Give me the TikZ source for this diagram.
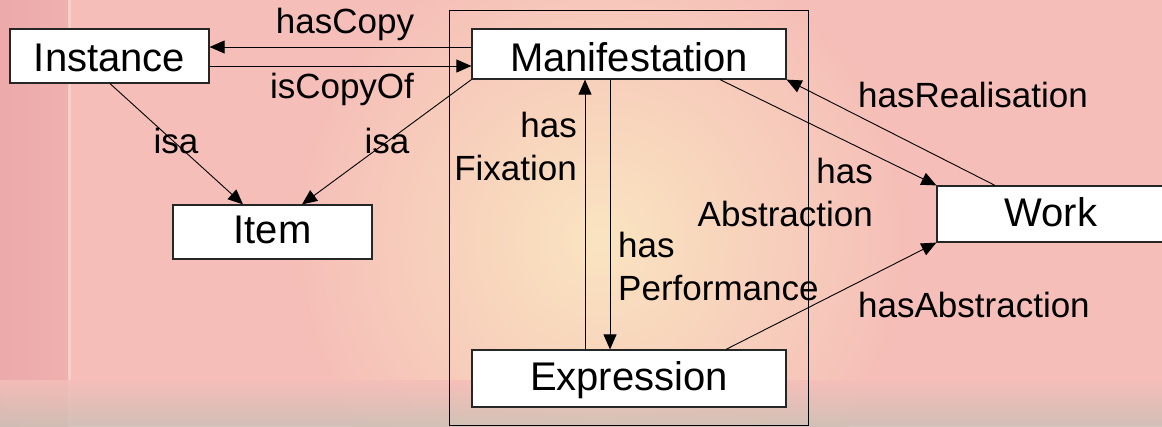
\documentclass[tikz,border=0pt]{standalone}
\usepackage{fontspec}
\setmainfont{Liberation Sans}
\usetikzlibrary{arrows.meta,backgrounds}

\definecolor{bgpink}{RGB}{245,190,184}
\definecolor{bgglow}{RGB}{250,228,192}
\definecolor{bgstrip}{RGB}{236,170,170}
\definecolor{bgfloor}{RGB}{204,192,182}

\begin{document}
\begin{tikzpicture}[x=1pt,y=-1pt,
  entity/.style={draw=black!85, line width=1.2pt, fill=white, inner sep=0pt,
    anchor=base, font=\fontsize{40}{48}\selectfont},
  rel/.style={draw=black, line width=0.9pt, -{Triangle[length=15pt,width=13pt]}},
  lbl/.style={inner sep=0pt, font=\fontsize{35}{43}\selectfont}]

\useasboundingbox (0,0) rectangle (1162,426);
\clip (0,0) rectangle (1162,426);

% entities
\node[entity, minimum width=199pt, text height=42pt, text depth=12pt] (inst) at (109.5,71) {Instance};
\node[entity, minimum width=314pt, text height=42pt, text depth=8pt]  (man)  at (629,71)   {Manifestation};
\node[entity, minimum width=199pt, text height=38pt, text depth=16pt] (item) at (272.5,243) {Item};
\node[entity, minimum width=314pt, text height=40pt, text depth=17pt] (expr) at (629,390)  {Expression};
\node[entity, minimum width=228pt, text height=40pt, text depth=16pt] (work) at (1051,226) {Work};

% backdrop and grouping frame
\begin{scope}[on background layer]
  \fill[bgpink] (0,0) rectangle (1162,426);
  \shade[inner color=bgglow, outer color=bgpink] (600,240) circle (310);
  \shade[left color=bgstrip, right color=bgstrip!70!bgpink] (0,0) rectangle (68,426);
  \fill[white, opacity=0.25] (68,0) rectangle (71,426);
  \shade[top color=bgpink, bottom color=bgfloor, opacity=0.85] (0,380) rectangle (1162,426);
  \draw[line width=1pt] (449,10) rectangle (808,425);
\end{scope}

% relations
\draw[rel] ([yshift=7pt]man.west) -- ([yshift=7pt]man.west -| inst.east);
\draw[rel] ([yshift=-10pt]inst.east) -- ([yshift=-10pt]inst.east -| man.west);
\draw[rel] ([xshift=0.5pt]inst.south) -- ([xshift=-29.5pt]item.north);
\draw[rel] (man.south west) -- ([xshift=29.5pt]item.north);
\draw[rel] ([xshift=-44pt]expr.north) -- ([xshift=-44pt]man.south);
\draw[rel] ([xshift=-19pt]man.south) -- ([xshift=-19pt]expr.north);
\draw[rel] ([xshift=91pt]man.south) -- (work.north west);
\draw[rel] ([xshift=-56pt]work.north) -- (man.south east);
\draw[rel] ([xshift=97pt]expr.north) -- (work.south west);

% relation labels
\node[lbl, anchor=base] (lhascopy) at (345,33) {hasCopy};
\node[lbl, anchor=base] (liscopy) at (342,98) {isCopyOf};
\node[lbl, anchor=base] (lisa1) at (176,153) {isa};
\node[lbl, anchor=base] (lisa2) at (387,153) {isa};
\node[lbl, anchor=north east, align=right] (lfix) at (577,111.5) {has\\Fixation};
\node[lbl, anchor=north west, align=left] (lperf) at (618,231.5) {has\\Performance};
\node[lbl, anchor=north east, align=right] (labs1) at (873,157.5) {has\\Abstraction};
\node[lbl, anchor=base west] (lreal) at (858,107) {hasRealisation};
\node[lbl, anchor=base west] (labs2) at (858,317) {hasAbstraction};
\end{tikzpicture}
\end{document}
